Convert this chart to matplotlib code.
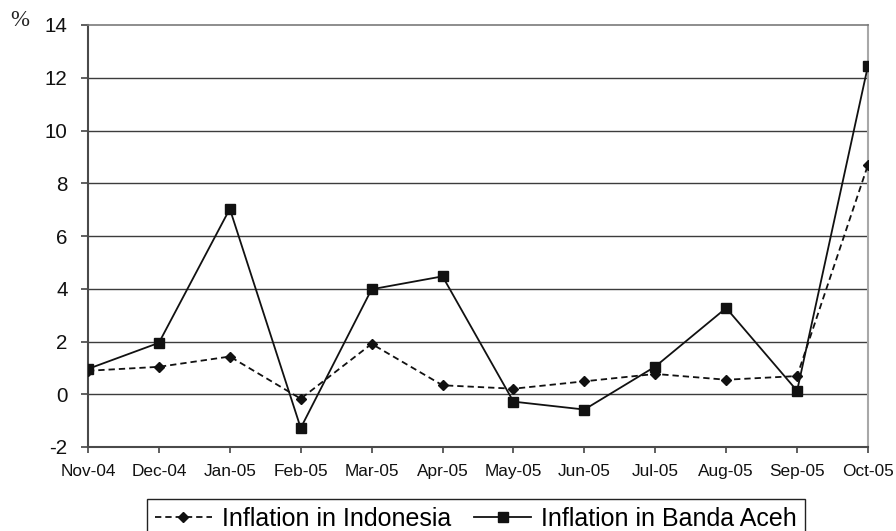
import matplotlib
matplotlib.use("Agg")
import matplotlib.pyplot as plt

months = ["Nov-04", "Dec-04", "Jan-05", "Feb-05", "Mar-05", "Apr-05",
          "May-05", "Jun-05", "Jul-05", "Aug-05", "Sep-05", "Oct-05"]
indonesia = [0.89, 1.04, 1.43, -0.17, 1.91, 0.34, 0.21, 0.49, 0.77, 0.55, 0.69, 8.70]
banda_aceh = [0.96, 1.95, 7.03, -1.28, 3.98, 4.47, -0.28, -0.58, 1.05, 3.27, 0.13, 12.46]
y_ticks = [-2, 0, 2, 4, 6, 8, 10, 12, 14]

plt.rcParams["font.family"] = ["Liberation Sans", "DejaVu Sans"]

fig = plt.figure(figsize=(8.96, 5.31), dpi=100)
ax = fig.add_axes([88 / 896, 1 - 447 / 531, 780 / 896, 422 / 531])

x = list(range(len(months)))

for yv in y_ticks[1:-1]:
    ax.axhline(yv, color="#3c3c3c", lw=1.0, zorder=1)

ax.plot(x, indonesia, color="#111111", lw=1.3, dashes=(3.5, 2.2),
        marker="D", markersize=5.5, markerfacecolor="#111111",
        markeredgecolor="#111111", label="Inflation in Indonesia", zorder=3)
ax.plot(x, banda_aceh, color="#111111", lw=1.3, linestyle="-",
        marker="s", markersize=7, markerfacecolor="#111111",
        markeredgecolor="#111111", label="Inflation in Banda Aceh", zorder=4)

ax.set_xlim(0, len(months) - 1)
ax.set_ylim(-2, 14)
ax.set_xticks(x)
ax.set_xticklabels(months, fontsize=12.4, color="#111111")
ax.set_yticks(y_ticks)
ax.set_yticklabels([str(v) for v in y_ticks], fontsize=14.8, color="#111111")
ax.tick_params(axis="x", direction="out", length=4.3, width=1.2,
               color="#444444", pad=8)
ax.tick_params(axis="y", direction="out", length=4.7, width=1.2,
               color="#444444", pad=10)

for side in ("left", "bottom"):
    ax.spines[side].set_color("#4a4a4a")
    ax.spines[side].set_linewidth(1.5)
ax.spines["top"].set_color("#7a7a7a")
ax.spines["top"].set_linewidth(1.2)
ax.spines["right"].set_color("#a8a8a8")
ax.spines["right"].set_linewidth(1.5)
for sp in ax.spines.values():
    sp.set_clip_on(False)

fig.text(19.5 / 896, 1 - 21 / 531, "%", fontsize=16.5,
         family=["Liberation Serif", "DejaVu Serif"],
         ha="center", va="center", color="#222222")

leg = ax.legend(loc="upper left", bbox_to_anchor=(147 / 896, 1 - 499 / 531),
                bbox_transform=fig.transFigure, ncol=2, fontsize=18,
                frameon=True, fancybox=False, framealpha=1,
                edgecolor="#222222", handlelength=2.3, handletextpad=0.4,
                columnspacing=0.9, borderpad=0.3, borderaxespad=0)
leg.get_frame().set_linewidth(1.0)

fig.savefig("out.png", dpi=100)
